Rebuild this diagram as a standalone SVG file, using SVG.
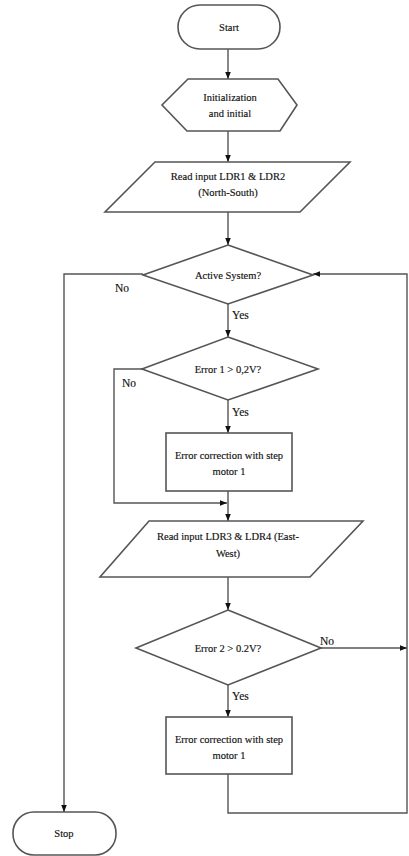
<svg xmlns="http://www.w3.org/2000/svg" width="409" height="856" viewBox="0 0 409 856">
<defs>
<marker id="ah" viewBox="0 0 10 10" refX="10" refY="5" markerWidth="7" markerHeight="7" orient="auto" markerUnits="userSpaceOnUse">
<path d="M0,1 L10,5 L0,9 Z" fill="#111"/>
</marker>
</defs>
<style>
.s{fill:#fff;stroke:#555;stroke-width:1.6}
.c{fill:none;stroke:#555;stroke-width:1.4}
.t{font-family:"Liberation Serif","Times New Roman",serif;font-size:10.5px;fill:#111;text-anchor:middle;stroke:#111;stroke-width:0.15}
.l{font-family:"Liberation Serif","Times New Roman",serif;font-size:11.5px;fill:#111;stroke:#111;stroke-width:0.15}
</style>
<rect width="409" height="856" fill="#fff"/>
<g id="connectors">
<path class="c" d="M228,49 V79" marker-end="url(#ah)"/>
<path class="c" d="M228,131 V162" marker-end="url(#ah)"/>
<path class="c" d="M228,212 V245" marker-end="url(#ah)"/>
<path class="c" d="M143,274 H64 V812" marker-end="url(#ah)"/>
<path class="c" d="M228,304 V337" marker-end="url(#ah)"/>
<path class="c" d="M142,369 H114 V503 H227" marker-end="url(#ah)"/>
<path class="c" d="M228,400 V433" marker-end="url(#ah)"/>
<path class="c" d="M228,491 V521" marker-end="url(#ah)"/>
<path class="c" d="M228,577 V610" marker-end="url(#ah)"/>
<path class="c" d="M321,648 H407" marker-end="url(#ah)"/>
<path class="c" d="M228,685 V717" marker-end="url(#ah)"/>
<path class="c" d="M228,774 V813 H407 V274 H313" marker-end="url(#ah)"/>
<text class="l" x="115" y="292">No</text>
<text class="l" x="232" y="319">Yes</text>
<text class="l" x="122" y="387">No</text>
<text class="l" x="232" y="416">Yes</text>
<text class="l" x="320" y="645">No</text>
<text class="l" x="232" y="700">Yes</text>
</g>
<g id="start">
<rect class="s" x="178" y="5" width="102" height="44" rx="22"/>
<text class="t" x="229" y="31">Start</text>
</g>
<g id="init">
<polygon class="s" points="188,79 278,79 297,105 280,131 187,131 162,105"/>
<text class="t" x="230" y="101">Initialization</text>
<text class="t" x="230" y="117">and initial</text>
</g>
<g id="read12">
<polygon class="s" points="155,162 350,162 300,212 105,212"/>
<text class="t" x="228" y="180">Read input LDR1 &amp; LDR2</text>
<text class="t" x="228" y="196">(North-South)</text>
</g>
<g id="active">
<polygon class="s" points="228,245 313,275 228,304 143,275"/>
<text class="t" x="228" y="279">Active System?</text>
</g>
<g id="error1">
<polygon class="s" points="228,337 318,369 228,400 142,369"/>
<text class="t" x="228" y="373">Error 1 &gt; 0,2V?</text>
</g>
<g id="correct1">
<rect class="s" x="166" y="433" width="126" height="58"/>
<text class="t" x="229" y="459">Error correction with step</text>
<text class="t" x="229" y="475">motor 1</text>
</g>
<g id="read34">
<polygon class="s" points="149,521 363,521 310,577 100,577"/>
<text class="t" x="228" y="540">Read input LDR3 &amp; LDR4 (East-</text>
<text class="t" x="228" y="557">West)</text>
</g>
<g id="error2">
<polygon class="s" points="228,610 321,648 228,685 136,648"/>
<text class="t" x="228" y="652">Error 2 &gt; 0.2V?</text>
</g>
<g id="correct2">
<rect class="s" x="166" y="717" width="126" height="57"/>
<text class="t" x="229" y="743">Error correction with step</text>
<text class="t" x="229" y="759">motor 1</text>
</g>
<g id="stop">
<rect class="s" x="13" y="812" width="103" height="43" rx="21"/>
<text class="t" x="64" y="837">Stop</text>
</g>
</svg>
